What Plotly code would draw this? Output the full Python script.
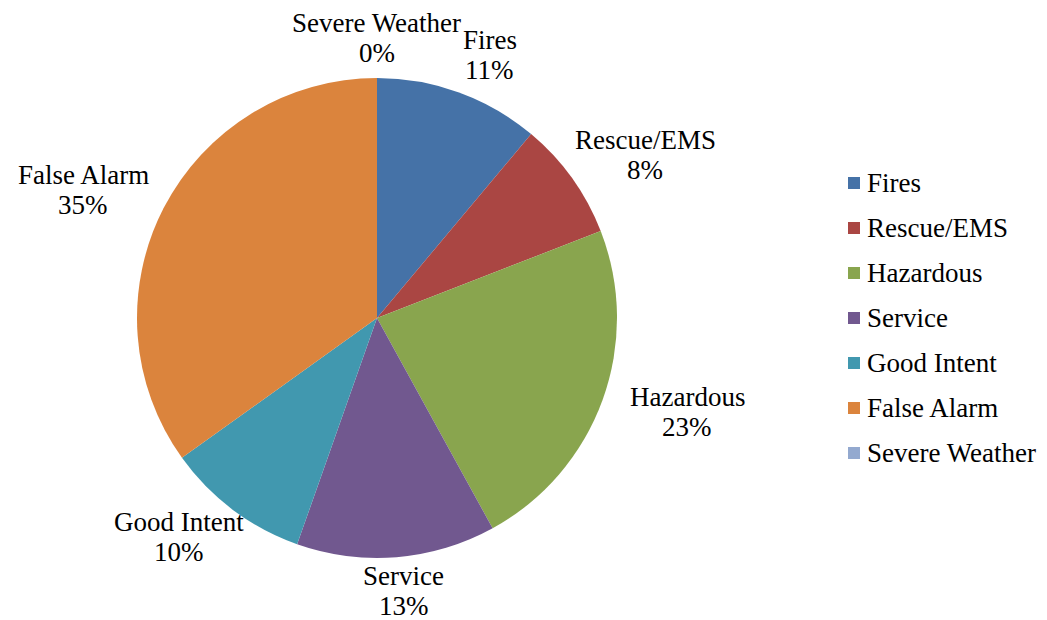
import math
import plotly.graph_objects as go

# ---- data ----
categories = ["Fires", "Rescue/EMS", "Hazardous", "Service", "Good Intent", "False Alarm", "Severe Weather"]
values = [11.1, 8.0, 22.9, 13.4, 9.7, 34.9, 0.0]
colors = ["#4572A7", "#AA4643", "#89A54E", "#71588F", "#4198AF", "#DB843D", "#93A9CF"]

OFF = 8                      # page body margin in the browser
W, H = 1047 - OFF, 620 - OFF
FONT = "Liberation Serif, Times New Roman, serif"
FS = 27


def px2paper(x, y):
    return (x - OFF) / W, 1 - (y - OFF) / H


# pie geometry (screen pixels)
cx, cy, r = 377, 318, 240
x0, y1 = px2paper(cx - r, cy - r)
x1, y0 = px2paper(cx + r, cy + r)

fig = go.Figure(go.Pie(
    labels=categories,
    values=values,
    marker=dict(colors=colors, line=dict(width=0)),
    sort=False,
    direction="clockwise",
    rotation=0,
    textinfo="none",
    hoverinfo="label+percent",
    showlegend=False,
    domain=dict(x=[x0, x1], y=[y0, y1]),
))

# data labels around the pie
total = sum(values)
cum = 0.0
rx, ry_top, ry_bot = 330, 280, 274
annotations = []
for name, v in zip(categories, values):
    mid = (cum + v / 2) / total * 2 * math.pi
    cum += v
    c = math.cos(mid)
    px = cx + rx * math.sin(mid)
    py = cy - (ry_top if c > 0 else ry_bot) * c
    pct = round(v / total * 100)
    for txt, dy in ((name, -15), (f"{pct}%", 15)):
        ax, ay = px2paper(px, py + dy)
        annotations.append(dict(
            x=ax, y=ay, xref="paper", yref="paper",
            text=txt, showarrow=False,
            xanchor="center", yanchor="middle", align="center",
            font=dict(family=FONT, size=FS, color="#000000"),
        ))

# manual legend
shapes = []
leg_x0, leg_y0, leg_gap, sq = 848, 183, 45, 12
for i, (name, col) in enumerate(zip(categories, colors)):
    yc = leg_y0 + i * leg_gap
    sx0, sy1 = px2paper(leg_x0, yc - sq / 2)
    sx1, sy0 = px2paper(leg_x0 + sq, yc + sq / 2)
    shapes.append(dict(
        type="rect", xref="paper", yref="paper",
        x0=sx0, x1=sx1, y0=sy0, y1=sy1,
        fillcolor=col, line=dict(width=0),
    ))
    tx, ty = px2paper(leg_x0 + sq + 5, yc)
    annotations.append(dict(
        x=tx, y=ty, xref="paper", yref="paper",
        text=name, showarrow=False, xanchor="left", yanchor="middle",
        font=dict(family=FONT, size=FS, color="#000000"),
    ))

fig.update_layout(
    width=W, height=H,
    margin=dict(l=0, r=0, t=0, b=0),
    paper_bgcolor="white", plot_bgcolor="white",
    annotations=annotations, shapes=shapes,
    font=dict(family=FONT),
)

fig.write_html("out.html")
